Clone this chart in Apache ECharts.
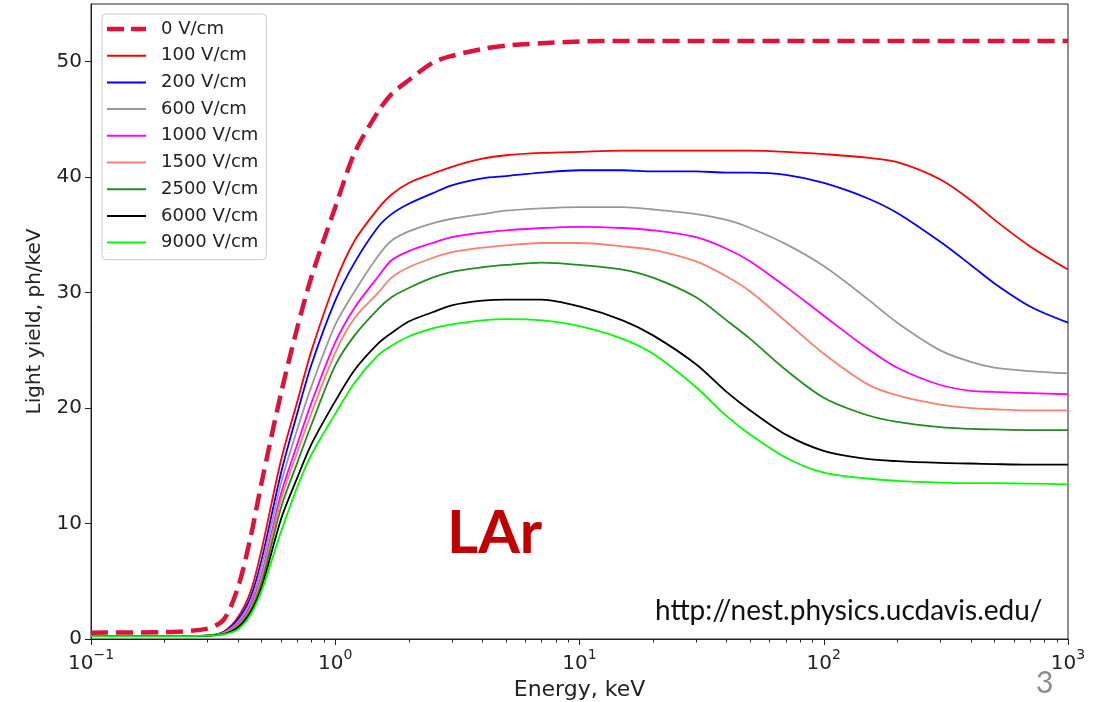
<!DOCTYPE html>
<html>
<head>
<meta charset="utf-8">
<script src="https://cdn.jsdelivr.net/npm/echarts@6/dist/echarts.min.js"></script>
<style>
  html, body { margin: 0; padding: 0; background: #fff; }
  #chart { width: 1109px; height: 702px; }
</style>
</head>
<body>
<div id="chart"></div>
<script>
// energies in keV (log x axis)
var energies = [0.1, 0.2, 0.3, 0.35, 0.4, 0.45, 0.5, 0.6, 0.7, 0.8, 1, 1.2, 1.5, 1.7, 2, 2.5, 3, 4, 5, 7, 10, 15, 20, 30, 40, 50, 70, 100, 150, 200, 300, 400, 500, 700, 1000];

// light yield, ph/keV (one array per drift field)
var ly0    = [0.55, 0.6, 0.9, 1.7, 4.5, 8.8, 13.6, 21.3, 27.0, 31.4, 37.4, 42.1, 45.7, 47.2, 48.4, 49.9, 50.5, 51.1, 51.4, 51.6, 51.75, 51.8, 51.8, 51.8, 51.8, 51.8, 51.8, 51.8, 51.8, 51.8, 51.8, 51.8, 51.8, 51.8, 51.8];
var ly100  = [0.25, 0.25, 0.3, 0.65, 1.9, 4.1, 7.8, 15.5, 20.6, 25.0, 30.9, 34.5, 37.3, 38.5, 39.5, 40.3, 40.9, 41.6, 41.9, 42.1, 42.2, 42.3, 42.3, 42.3, 42.3, 42.3, 42.2, 42.0, 41.7, 41.3, 39.8, 38.0, 36.3, 34.0, 32.0];
var ly200  = [0.25, 0.25, 0.3, 0.6, 1.7, 3.6, 6.9, 14.4, 19.6, 23.8, 29.3, 32.6, 35.7, 36.8, 37.7, 38.6, 39.3, 39.9, 40.1, 40.4, 40.6, 40.6, 40.5, 40.5, 40.4, 40.4, 40.2, 39.5, 38.2, 36.9, 34.4, 32.4, 30.8, 28.8, 27.4];
var ly600  = [0.25, 0.25, 0.3, 0.55, 1.5, 3.2, 6.3, 13.5, 18.2, 21.9, 27.2, 30.1, 33.2, 34.5, 35.3, 36.0, 36.4, 36.8, 37.1, 37.3, 37.4, 37.4, 37.2, 36.8, 36.3, 35.6, 34.2, 32.3, 29.5, 27.4, 25.0, 24.0, 23.5, 23.2, 23.0];
var ly1000 = [0.25, 0.25, 0.3, 0.5, 1.3, 2.9, 5.6, 12.6, 16.9, 20.5, 25.7, 28.7, 31.4, 32.8, 33.6, 34.3, 34.8, 35.2, 35.4, 35.6, 35.7, 35.6, 35.4, 34.8, 33.8, 32.7, 30.5, 28.0, 25.2, 23.5, 22.0, 21.5, 21.4, 21.3, 21.2];
var ly1500 = [0.25, 0.25, 0.3, 0.5, 1.2, 2.7, 5.3, 12.1, 16.2, 19.6, 24.8, 27.8, 30.0, 31.3, 32.2, 33.0, 33.5, 33.9, 34.1, 34.3, 34.3, 34.0, 33.7, 32.7, 31.4, 30.1, 27.5, 24.7, 22.1, 21.1, 20.3, 20.0, 19.9, 19.8, 19.8];
var ly2500 = [0.25, 0.25, 0.3, 0.45, 1.1, 2.5, 4.9, 11.4, 15.3, 18.6, 23.7, 26.3, 28.6, 29.6, 30.4, 31.3, 31.8, 32.2, 32.4, 32.6, 32.4, 32.0, 31.3, 29.6, 27.6, 26.0, 23.3, 20.9, 19.4, 18.8, 18.35, 18.2, 18.15, 18.1, 18.1];
var ly6000 = [0.25, 0.25, 0.3, 0.42, 1.0, 2.3, 4.5, 10.4, 14.0, 16.9, 20.6, 23.3, 25.6, 26.5, 27.5, 28.3, 28.9, 29.3, 29.4, 29.4, 28.8, 27.6, 26.3, 23.8, 21.4, 19.8, 17.7, 16.3, 15.6, 15.4, 15.25, 15.2, 15.15, 15.1, 15.1];
var ly9000 = [0.25, 0.25, 0.3, 0.4, 0.85, 2.1, 4.2, 9.3, 13.2, 16.0, 19.5, 22.2, 24.6, 25.4, 26.2, 26.9, 27.25, 27.6, 27.7, 27.6, 27.1, 26.0, 24.7, 21.8, 19.3, 17.7, 15.7, 14.4, 13.9, 13.7, 13.55, 13.5, 13.5, 13.45, 13.4];

var fieldNames = ['0 V/cm', '100 V/cm', '200 V/cm', '600 V/cm', '1000 V/cm', '1500 V/cm', '2500 V/cm', '6000 V/cm', '9000 V/cm'];
var fieldColors = ['#DC143C', '#FF0000', '#0000FF', '#999999', '#FF00FF', '#FA8072', '#228B22', '#000000', '#00FF00'];
var allYields = [ly0, ly100, ly200, ly600, ly1000, ly1500, ly2500, ly6000, ly9000];

var majorTicks = [0.1, 1, 10, 100, 1000];
var minorTicks = [];
[0.1, 1, 10, 100].forEach(function (d) {
    for (var k = 2; k <= 9; k++) minorTicks.push(+(d * k).toPrecision(3));
});
var yTicks = [0, 10, 20, 30, 40, 50];

var font = 'DejaVu Sans';
var supMap = { '-1': '\u22121', '0': '0', '1': '1', '2': '2', '3': '3' };

// legend keys drawn as plain line segments (dashed for the 0 V/cm curve)
var solidKey = 'path://M0,0H39V2H0Z';
var dashedKey = 'path://M0,0H17V4.5H0Z M24,0H39V4.5H24Z';

var series = allYields.map(function (vals, i) {
    return {
        name: fieldNames[i],
        type: 'line',
        xAxisIndex: 0,
        data: energies.map(function (e, j) { return [e, vals[j]]; }),
        symbol: 'none',
        smooth: 0.3,
        lineStyle: i === 0
            ? { color: fieldColors[i], width: 4.5, type: [17, 8] }
            : { color: fieldColors[i], width: 1.8 },
        itemStyle: { color: fieldColors[i] },
        emphasis: { disabled: true },
        z: 2 + i
    };
});

var chart = echarts.init(document.getElementById('chart'), null, { renderer: 'canvas' });

var option = {
    backgroundColor: '#ffffff',
    animation: false,
    grid: {
        left: 91, right: 41, top: 4, bottom: 63,
        outerBoundsMode: 'none',
        show: true, borderColor: '#222', borderWidth: 1
    },
    legend: {
        orient: 'vertical',
        left: 102, top: 14,
        padding: [6, 8, 8, 5],
        itemWidth: 39, itemHeight: 14, itemGap: 8.7,
        backgroundColor: 'rgba(255,255,255,0.85)',
        borderColor: '#cccccc', borderWidth: 1, borderRadius: 4,
        textStyle: { fontFamily: font, fontSize: 18, color: '#222', lineHeight: 18, padding: [0, 0, 0, 10] },
        data: fieldNames.map(function (n, i) {
            return { name: n, icon: i === 0 ? dashedKey : solidKey, itemStyle: { color: fieldColors[i], borderWidth: 0 } };
        })
    },
    xAxis: [
        {
            type: 'log', logBase: 10, min: 0.1, max: 1000,
            name: 'Energy, keV', nameLocation: 'middle', nameGap: 37,
            nameTextStyle: { fontFamily: font, fontSize: 22, color: '#222' },
            axisLine: { lineStyle: { color: '#222', width: 1 } },
            axisTick: { customValues: majorTicks, length: 6, lineStyle: { color: '#222' } },
            axisLabel: {
                customValues: majorTicks, margin: 9,
                formatter: function (v) {
                    var ex = Math.round(Math.log10(v));
                    return '{b|10}{s|' + supMap[String(ex)] + '}';
                },
                rich: {
                    b: { fontFamily: font, fontSize: 20, color: '#222', lineHeight: 26, verticalAlign: 'bottom' },
                    s: { fontFamily: font, fontSize: 14, color: '#222', lineHeight: 14, verticalAlign: 'top' }
                }
            },
            splitLine: { show: false }
        },
        {
            type: 'log', logBase: 10, min: 0.1, max: 1000,
            position: 'bottom',
            axisLine: { show: false },
            axisTick: { customValues: minorTicks, length: 3.5, lineStyle: { color: '#222' } },
            axisLabel: { show: false },
            splitLine: { show: false }
        }
    ],
    yAxis: {
        type: 'value', min: 0, max: 55, interval: 10,
        name: 'Light yield, ph/keV', nameLocation: 'middle', nameGap: 46,
        nameTextStyle: { fontFamily: font, fontSize: 20, color: '#222' },
        axisLine: { show: true, lineStyle: { color: '#222', width: 1 } },
        axisTick: { show: true, customValues: yTicks, length: 6, lineStyle: { color: '#222' } },
        axisLabel: { customValues: yTicks, margin: 9, fontFamily: font, fontSize: 20, color: '#222' },
        splitLine: { show: false }
    },
    series: series,
    graphic: [
        {
            type: 'text', left: 447, top: 504,
            style: { text: 'LAr', fontFamily: 'Lato', fontWeight: 'bold', fontSize: 60, fill: '#C00000' }
        },
        {
            type: 'text', left: 655, top: 597,
            style: { text: 'http://nest.physics.ucdavis.edu/', fontFamily: 'Lato', fontSize: 28, fill: '#111' }
        },
        {
            type: 'text', left: 1036, top: 668,
            style: { text: '3', fontFamily: 'Lato', fontSize: 30, fill: '#8c8c8c' }
        }
    ]
};

chart.setOption(option);
</script>
</body>
</html>
